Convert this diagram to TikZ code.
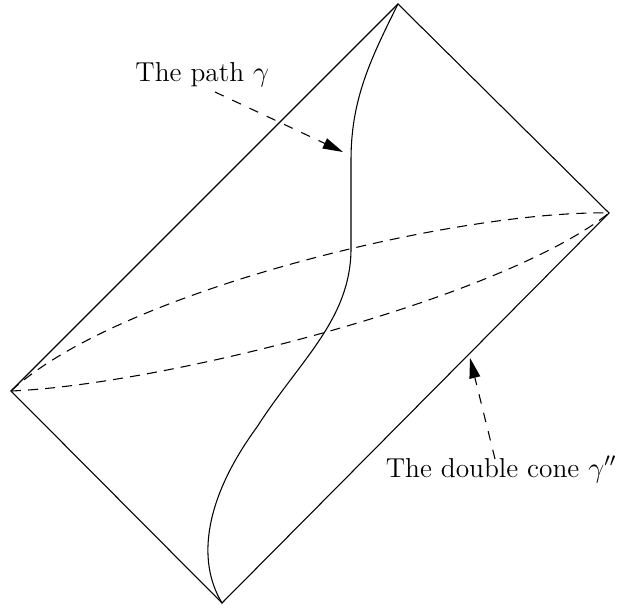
\documentclass[tikz,border=0pt]{standalone}
\usepackage{amsmath,amssymb}
\usetikzlibrary{arrows.meta}
\tikzset{
  cone/.style={line width=0.45pt},
  slice/.style={line width=0.45pt,dash pattern=on 4.2pt off 3pt},
  pointer/.style={line width=0.45pt,dash pattern=on 4pt off 4pt,-{Triangle[length=8.5pt,width=4.6pt]}},
  lbl/.style={inner sep=0pt,font=\fontsize{11.5}{13}\selectfont}
}

\begin{document}
\begin{tikzpicture}[x=0.42pt,y=-0.42pt]
  \useasboundingbox (0,0) rectangle (621,608);
  \coordinate (top) at (398,4);
  \coordinate (right) at (609,213);
  \coordinate (bottom) at (222,603);
  \coordinate (left) at (11,391);
  \draw[cone] (top) -- (right) -- (bottom) -- (left) -- cycle;
  \draw[slice] (left) .. controls (120,290) and (460,210) .. (right);
  \draw[slice] (left) .. controls (160,385) and (500,300) .. (right);
  \draw[cone] (top) .. controls (370,60) and (351,100) .. (351,160) -- (351,250)
      .. controls (350,320) and (300,360) .. (257,427)
      .. controls (205,498) and (196,560) .. (bottom);
  \node[lbl,anchor=base west] (pathlbl) at (135,82) {The path $\gamma$};
  \node[lbl,anchor=base east] (conelbl) at (617,477) {The double cone $\gamma''$};
  \coordinate (pathtail) at (215,92);
  \coordinate (pathtip) at (343,152);
  \coordinate (conetail) at (495,459);
  \coordinate (conetip) at (470,358);
  \draw[pointer] (pathtail) -- (pathtip);
  \draw[pointer] (conetail) -- (conetip);
\end{tikzpicture}
\end{document}
